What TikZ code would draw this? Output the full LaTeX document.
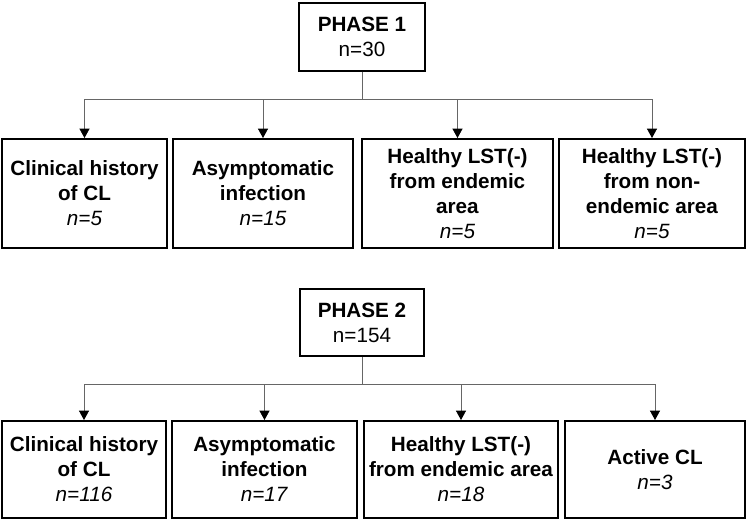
\documentclass[tikz,border=0pt]{standalone}
\usepackage{fontspec}
\setmainfont{Liberation Sans}
\usetikzlibrary{arrows.meta}

\begin{document}
\begin{tikzpicture}[x=0.75pt, y=-0.75pt,
    >={Triangle[length=7pt, width=7.5pt, color=black]},
    box/.style={draw, line width=1.5pt, rectangle, inner sep=0pt, align=center,
        font=\fontsize{15.5}{18.75}\selectfont},
    phasebox/.style={box, minimum width=95pt, minimum height=51pt},
    groupbox/.style={box, minimum height=81.75pt},
    subbox/.style={box, minimum height=72.75pt},
    link/.style={draw=black!60, line width=0.6pt}]
        \useasboundingbox (0,0) rectangle (747,522);
        % phase 1
        \begin{scope}
            \node [phasebox] (p1) at (362,36.5) {\textbf{PHASE 1}\\n=30};
            \coordinate (j1) at (362,99);
            \node [groupbox, minimum width=123.75pt] (a1) at (84.5,193.5) {\textbf{Clinical history}\\\textbf{of CL}\\\textit{n=5}};
            \node [groupbox, minimum width=135pt] (a2) at (263,193.5) {\textbf{Asymptomatic}\\\textbf{infection}\\\textit{n=15}};
            \node [groupbox, minimum width=143.25pt] (a3) at (457.5,193.5) {\textbf{Healthy LST(-)}\\\textbf{from endemic}\\\textbf{area}\\\textit{n=5}};
            \node [groupbox, minimum width=139.5pt] (a4) at (652,193.5) {\textbf{Healthy LST(-)}\\\textbf{from non-}\\\textbf{endemic area}\\\textit{n=5}};
            \draw [link] (p1) -- (j1);
            \draw [link, ->] (j1) -| (a1.north);
            \draw [link, ->] (j1) -| (a2.north);
            \draw [link, ->] (j1) -| (a3.north);
            \draw [link, ->] (j1) -| (a4.north);
        \end{scope}
        % phase 2
        \begin{scope}
            \node [phasebox, minimum width=93pt, minimum height=50.25pt] (p2) at (362,322.5) {\textbf{PHASE 2}\\n=154};
            \coordinate (j2) at (362,384);
            \node [subbox, minimum width=123pt] (b1) at (84,469.5) {\textbf{Clinical history}\\\textbf{of CL}\\\textit{n=116}};
            \node [subbox, minimum width=138.75pt] (b2) at (264.5,469.5) {\textbf{Asymptomatic}\\\textbf{infection}\\\textit{n=17}};
            \node [subbox, minimum width=145.5pt] (b3) at (461,469.5) {\textbf{Healthy LST(-)}\\\textbf{from endemic area}\\\textit{n=18}};
            \node [subbox, minimum width=135pt] (b4) at (655,469.5) {\textbf{Active CL}\\\textit{n=3}};
            \draw [link] (p2) -- (j2);
            \draw [link, ->] (j2) -| (b1.north);
            \draw [link, ->] (j2) -| (b2.north);
            \draw [link, ->] (j2) -| (b3.north);
            \draw [link, ->] (j2) -| (b4.north);
        \end{scope}
\end{tikzpicture}
\end{document}
